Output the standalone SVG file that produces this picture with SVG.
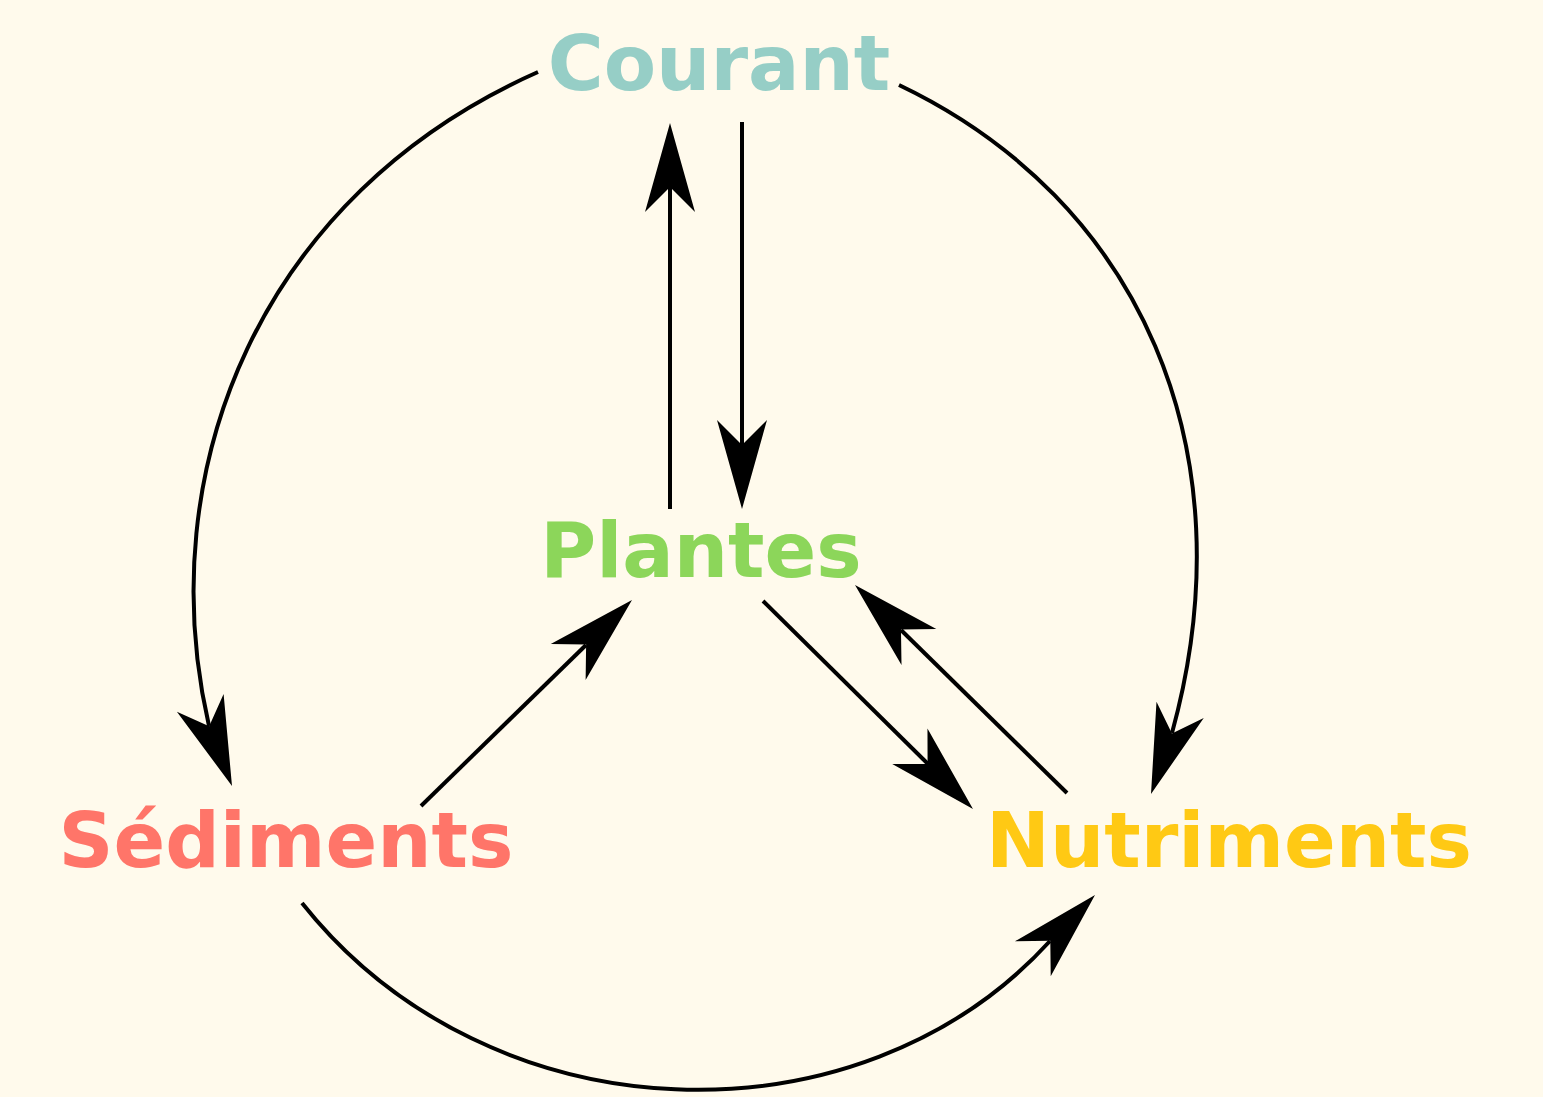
<svg xmlns="http://www.w3.org/2000/svg" xmlns:xlink="http://www.w3.org/1999/xlink" width="1543" height="1097" viewBox="0 0 1543 1097">
<style>
.lbl{font-family:"DejaVu Sans","Liberation Sans",sans-serif;font-weight:bold;font-size:76.3px;text-anchor:middle}
.edge{fill:none;stroke:#000;stroke-width:4}
</style>
<defs>
<path id="head" d="M0,0 L-89,-25 L-64,0 L-89,25 Z" fill="#000"/>
</defs>
<rect width="1543" height="1097" fill="#FFFAEC"/>
<g id="connectors">
<path class="edge" d="M670,509 L670,187"/>
<use xlink:href="#head" href="#head" transform="translate(670,123) rotate(-90)"/>
<path class="edge" d="M742,122 L742,445"/>
<use xlink:href="#head" href="#head" transform="translate(742,509) rotate(90)"/>
<path class="edge" d="M538,72 C260,195 150,470 209,726"/>
<use xlink:href="#head" href="#head" transform="translate(232,786) rotate(69.1)"/>
<path class="edge" d="M899,85 C1140,200 1250,450 1172,733"/>
<use xlink:href="#head" href="#head" transform="translate(1151,794) rotate(109.1)"/>
<path class="edge" d="M421,806 L586,645"/>
<use xlink:href="#head" href="#head" transform="translate(632,600) rotate(-44.2)"/>
<path class="edge" d="M763,601 L928,764"/>
<use xlink:href="#head" href="#head" transform="translate(973,809) rotate(44.8)"/>
<path class="edge" d="M1067,793 L901,630"/>
<use xlink:href="#head" href="#head" transform="translate(855,585) rotate(-135.9)"/>
<path class="edge" d="M302,903 C490,1140 860,1150 1050,941"/>
<use xlink:href="#head" href="#head" transform="translate(1095,895) rotate(-45.7)"/>
</g>
<g id="node-courant"><text class="lbl" x="719" y="90" fill="#96CEC6">Courant</text></g>
<g id="node-plantes"><text class="lbl" x="701" y="577" fill="#8CD65A">Plantes</text></g>
<g id="node-sediments"><text class="lbl" x="286" y="867" fill="#FF7569">Sédiments</text></g>
<g id="node-nutriments"><text class="lbl" x="1229" y="867" fill="#FFC914">Nutriments</text></g>
</svg>
